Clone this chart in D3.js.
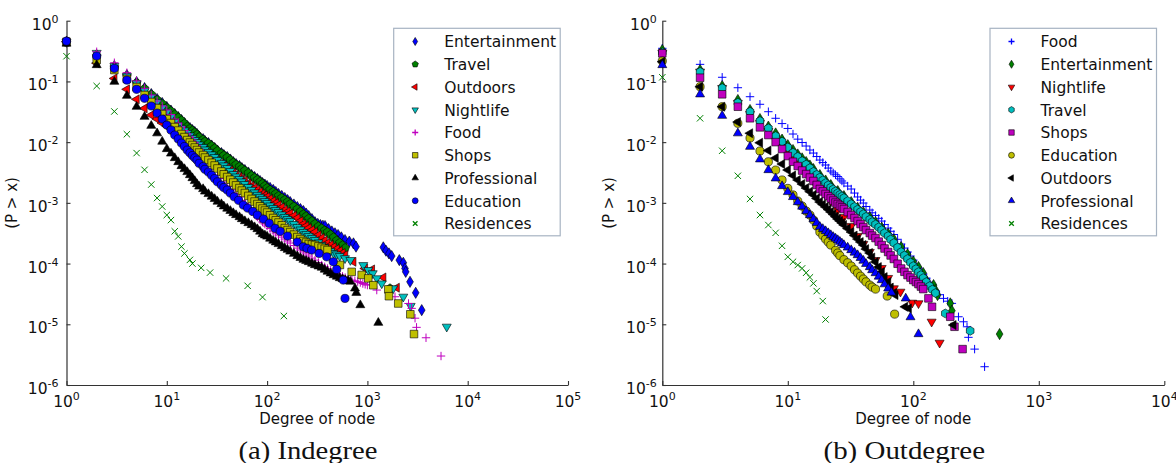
<!DOCTYPE html>
<html>
<head>
<meta charset="utf-8">
<script src="https://cdn.jsdelivr.net/npm/d3@7"></script>
<style>
  body { margin: 0; background: #fff; }
  svg { display: block; font-family: "DejaVu Sans", sans-serif; }
</style>
</head>
<body>
<svg id="chart" width="1176" height="463"></svg>
<script>
// ---- (a) Indegree : [degree, P(>x)] pairs
var inEntertainment = [[1,0.451],[2,0.272],[3,0.179],[4,0.127],[5,0.0977],[6,0.0778],[7,0.062],[8,0.0513],[9,0.0441],[10,0.0379],[11,0.0331],[12,0.029],[13,0.0259],[14,0.0231],[15,0.0206],[16,0.0184],[17,0.0171],[18,0.0158],[19,0.0147],[20,0.0136],[21,0.0123],[23,0.0112],[24,0.0104],[26,0.00966],[28,0.00879],[30,0.008],[32,0.00727],[35,0.00661],[37,0.00613],[40,0.00568],[43,0.00517],[46,0.0047],[49,0.00436],[53,0.00404],[56,0.00374],[60,0.00347],[65,0.00316],[70,0.00287],[75,0.00266],[80,0.00247],[85,0.00229],[90,0.00212],[95,0.002],[100,0.00189],[107,0.00176],[115,0.00163],[122,0.00151],[130,0.0014],[140,0.0013],[150,0.0012],[160,0.00111],[170,0.00103],[185,0.00094],[200,0.000853],[215,0.00079],[230,0.000733],[245,0.000667],[260,0.000606],[280,0.00054],[300,0.00048],[320,0.00045],[340,0.00043],[360,0.00042],[378,0.000415],[410,0.00037],[442,0.000338],[475,0.000315],[510,0.000295],[550,0.00027],[598,0.000244],[660,0.00023],[726,0.000215],[770,0.00019],[1440,0.000185],[1530,0.000163],[1640,0.000147],[1746,0.000133],[2080,0.000114],[2280,0.000103],[2370,0.000083],[2410,0.000073],[2660,0.00005],[3030,0.000033],[3480,0.0000171]];
var inTravel = [[1,0.44],[2,0.26],[3,0.172],[4,0.123],[5,0.095],[6,0.076],[7,0.061],[8,0.05],[9,0.043],[10,0.037],[11,0.0325],[12,0.0285],[13,0.0254],[14,0.0227],[15,0.0202],[16,0.018],[17,0.0167],[18,0.0155],[19,0.0144],[20,0.0133],[21,0.0121],[23,0.011],[24,0.0102],[26,0.0095],[28,0.00866],[30,0.0079],[32,0.00717],[35,0.0065],[37,0.00603],[40,0.0056],[43,0.00508],[46,0.0046],[49,0.00426],[53,0.00395],[56,0.00366],[60,0.0034],[65,0.00309],[70,0.0028],[75,0.00259],[80,0.0024],[85,0.00223],[90,0.00207],[95,0.00191],[100,0.00176],[107,0.00164],[115,0.00152],[122,0.00141],[130,0.0013],[140,0.00121],[150,0.00112],[160,0.00104],[170,0.00096],[185,0.00087],[200,0.00079],[215,0.00072],[230,0.00065],[245,0.0006],[260,0.00055],[280,0.0005],[300,0.00045],[325,0.00041],[350,0.00038],[375,0.00035],[400,0.00033],[430,0.0003],[460,0.00027],[495,0.00024],[530,0.00022],[565,0.0002],[600,0.00018],[1680,0.000039]];
var inOutdoors = [[1,0.45],[2,0.2],[3,0.112],[4,0.0741],[5,0.0507],[6,0.036],[7,0.0279],[8,0.024],[9,0.0206],[10,0.0184],[11,0.0167],[12,0.0152],[13,0.0138],[14,0.0126],[15,0.0117],[16,0.0108],[17,0.01],[18,0.00931],[19,0.00879],[20,0.0083],[21,0.0077],[23,0.00714],[24,0.00662],[26,0.00613],[28,0.00568],[30,0.00527],[32,0.00479],[35,0.00436],[37,0.00404],[40,0.00374],[43,0.0034],[46,0.0031],[49,0.00287],[53,0.00266],[56,0.00247],[60,0.00229],[65,0.00208],[70,0.00189],[75,0.00175],[80,0.00163],[85,0.00151],[90,0.0014],[95,0.00132],[100,0.00125],[107,0.00116],[115,0.00107],[122,0.00099],[130,0.00092],[140,0.00084],[150,0.000761],[160,0.000712],[170,0.000667],[185,0.000612],[200,0.000562],[215,0.000502],[230,0.000448],[245,0.000415],[260,0.000384],[280,0.000356],[300,0.00033],[325,0.000295],[350,0.000263],[375,0.000239],[400,0.000218],[430,0.000202],[460,0.000187],[495,0.000174],[530,0.000161],[565,0.000149],[600,0.000138],[724,0.000107],[946,0.000083],[1110,0.00008],[1440,0.000059],[1960,0.00004]];
var inNightlife = [[1,0.45],[2,0.294],[3,0.179],[4,0.123],[5,0.0931],[6,0.0695],[7,0.0553],[8,0.0458],[9,0.037],[10,0.031],[11,0.0258],[12,0.0214],[13,0.0191],[14,0.0171],[15,0.0155],[16,0.0141],[17,0.0128],[18,0.0117],[19,0.0108],[20,0.01],[21,0.0091],[23,0.0083],[24,0.00755],[26,0.00687],[28,0.00625],[30,0.00568],[32,0.00507],[35,0.00453],[37,0.00412],[40,0.00374],[43,0.00334],[46,0.00298],[49,0.00271],[53,0.00247],[56,0.00224],[60,0.00204],[65,0.00182],[70,0.00163],[75,0.00148],[80,0.00135],[85,0.00125],[90,0.00116],[95,0.00107],[100,0.000993],[107,0.000903],[115,0.000821],[122,0.000761],[130,0.000706],[140,0.000642],[150,0.000584],[160,0.000541],[170,0.000501],[185,0.000447],[200,0.000399],[215,0.000363],[230,0.00033],[245,0.000306],[260,0.000284],[280,0.000263],[300,0.000244],[325,0.000222],[350,0.000202],[375,0.000187],[400,0.000173],[430,0.000161],[460,0.000149],[495,0.000141],[530,0.000133],[598,0.000122],[676,0.000114],[910,0.000094],[1020,0.000078],[1130,0.000069],[1240,0.000057],[1390,0.000047],[1810,0.000039],[2280,0.0000284],[2700,0.00002],[6180,0.0000091]];
var inFood = [[1,0.46],[2,0.308],[3,0.203],[4,0.139],[5,0.102],[6,0.0769],[7,0.0597],[8,0.0475],[9,0.0394],[10,0.0338],[11,0.0285],[12,0.024],[13,0.0206],[14,0.0177],[15,0.0155],[16,0.0136],[17,0.0121],[18,0.0108],[19,0.00974],[20,0.00879],[21,0.00762],[23,0.00661],[24,0.0059],[26,0.00527],[28,0.00453],[30,0.00389],[32,0.00334],[35,0.00287],[37,0.00251],[40,0.0022],[43,0.00189],[46,0.00163],[49,0.00143],[53,0.00125],[56,0.0011],[60,0.000973],[65,0.000836],[70,0.000719],[75,0.000648],[80,0.000584],[85,0.000531],[90,0.000483],[95,0.000448],[100,0.000415],[107,0.000377],[115,0.000343],[122,0.000318],[130,0.000295],[140,0.000273],[150,0.000253],[160,0.000235],[170,0.000218],[185,0.000198],[200,0.00018],[215,0.000167],[230,0.000155],[245,0.000144],[260,0.000133],[280,0.000123],[300,0.000114],[325,0.000104],[350,0.0000945],[375,0.0000885],[400,0.0000828],[430,0.0000774],[460,0.0000724],[495,0.0000684],[530,0.0000646],[565,0.0000616],[600,0.0000587],[650,0.000056],[700,0.0000535],[750,0.000052],[800,0.0000505],[850,0.0000487],[900,0.0000469],[950,0.0000455],[1000,0.0000442],[1240,0.0000366],[1885,0.0000284],[2570,0.000022],[2760,0.0000183],[2985,0.0000126],[3090,0.0000089],[3840,0.000006],[5420,0.000003]];
var inShops = [[1,0.45],[2,0.225],[3,0.154],[4,0.11],[5,0.0809],[6,0.0597],[7,0.0458],[8,0.0364],[9,0.029],[10,0.024],[11,0.0206],[12,0.0177],[13,0.0155],[14,0.0136],[15,0.0121],[16,0.0108],[17,0.00984],[18,0.00896],[19,0.00815],[20,0.00741],[21,0.00674],[23,0.00613],[24,0.00557],[26,0.00507],[28,0.00457],[30,0.00412],[32,0.00368],[35,0.00328],[37,0.00295],[40,0.00266],[43,0.0024],[46,0.00216],[49,0.00194],[53,0.00175],[56,0.00159],[60,0.00145],[65,0.0013],[70,0.00116],[75,0.00105],[80,0.000955],[85,0.000877],[90,0.000805],[95,0.000746],[100,0.000692],[107,0.000624],[115,0.000562],[122,0.000516],[130,0.000474],[140,0.000427],[150,0.000384],[160,0.000356],[170,0.00033],[185,0.0003],[200,0.000273],[215,0.000253],[230,0.000235],[245,0.000222],[260,0.00021],[280,0.000206],[300,0.000202],[325,0.000192],[350,0.000183],[375,0.000175],[400,0.000167],[532,0.000095],[697,0.000073],[877,0.000065],[1020,0.000057],[1145,0.000044],[1615,0.0000376],[1640,0.000029],[2030,0.000022],[2680,0.0000146],[2915,0.0000069]];
var inProfessional = [[1,0.42],[2,0.186],[3,0.0989],[4,0.0581],[5,0.0383],[6,0.0262],[7,0.0186],[8,0.014],[9,0.0102],[10,0.0077],[11,0.0065],[12,0.00547],[13,0.0047],[14,0.00404],[15,0.00361],[16,0.00322],[17,0.00287],[18,0.00256],[19,0.00229],[20,0.00204],[21,0.00186],[23,0.00169],[24,0.00154],[26,0.0014],[28,0.00127],[30,0.00116],[32,0.00105],[35,0.000955],[37,0.000877],[40,0.000805],[43,0.000739],[46,0.000679],[49,0.00063],[53,0.000584],[56,0.000541],[60,0.000501],[65,0.000465],[70,0.000431],[75,0.000399],[80,0.00037],[85,0.000337],[90,0.000306],[95,0.000292],[100,0.000279],[107,0.000258],[115,0.000239],[122,0.000224],[130,0.00021],[140,0.000194],[150,0.00018],[160,0.000169],[170,0.000158],[185,0.000145],[200,0.000133],[215,0.000124],[230,0.000116],[245,0.000111],[260,0.000106],[280,0.0001],[300,0.0000945],[325,0.00009],[350,0.0000859],[375,0.0000796],[400,0.0000738],[430,0.000069],[460,0.0000646],[495,0.0000611],[530,0.0000577],[565,0.0000556],[600,0.0000535],[640,0.000052],[676,0.0000505],[752,0.000039],[775,0.000033],[850,0.0000207],[1285,0.0000106]];
var inEducation = [[1,0.46],[2,0.262],[3,0.164],[4,0.105],[5,0.0741],[6,0.0527],[7,0.0394],[8,0.0301],[9,0.024],[10,0.0191],[11,0.0158],[12,0.0131],[13,0.0113],[14,0.00966],[15,0.00846],[16,0.00741],[17,0.00667],[18,0.00601],[19,0.00552],[20,0.00507],[21,0.00448],[23,0.00396],[24,0.00357],[26,0.00322],[28,0.00284],[30,0.00251],[32,0.00222],[35,0.00196],[37,0.00179],[40,0.00163],[43,0.00145],[47,0.00126],[52,0.0011],[58,0.00092],[64,0.00082],[72,0.00072],[80,0.00063],[92,0.00054],[105,0.00046],[120,0.00038],[135,0.00034],[160,0.000284],[200,0.000226],[229,0.000189],[250,0.000178],[278,0.000167],[330,0.000147],[393,0.000129],[457,0.000107],[494,0.00008],[575,0.0000535],[598,0.0000267]];
var inResidences = [[1,0.26],[2,0.084],[3,0.032],[4,0.0135],[5,0.0066],[6,0.0035],[7,0.002],[8,0.0012],[9,0.00087],[10,0.00063],[11,0.00052],[12,0.00034],[13,0.00028],[14,0.00019],[15,0.000147],[17,0.000115],[18,0.0001],[22,0.000085],[27,0.000071],[39,0.000057],[64,0.000043],[90,0.000028],[147,0.0000137]];

// ---- (b) Outdegree
var outFood = [[1,0.351],[2,0.191],[3,0.117],[4,0.0787],[5,0.056],[6,0.042],[7,0.0317],[8,0.0247],[9,0.0202],[10,0.0168],[11,0.0136],[12,0.0112],[13,0.00985],[14,0.00863],[15,0.00741],[16,0.00661],[17,0.00579],[18,0.00507],[19,0.00461],[20,0.0042],[21,0.00374],[22,0.00334],[23,0.00311],[24,0.0029],[25,0.00271],[26,0.00248],[27,0.00229],[28,0.00212],[30,0.00189],[32,0.00169],[34,0.00145],[36,0.00125],[38,0.00111],[40,0.000993],[42,0.00087],[45,0.000761],[47,0.000686],[50,0.000618],[53,0.000556],[56,0.000501],[59,0.000439],[63,0.000384],[66,0.00034],[70,0.000301],[75,0.000251],[80,0.00021],[85,0.00018],[90,0.000155],[95,0.000133],[100,0.000114],[105,0.000098],[110,0.0000843],[115,0.0000752],[120,0.0000671],[127,0.0000576],[135,0.0000495],[142,0.0000417],[150,0.0000352],[162,0.0000307],[174,0.0000267],[188,0.000024],[203,0.0000221],[229,0.0000133],[251,0.000011],[268,0.0000091],[275,0.0000061],[308,0.0000039],[370,0.000002]];
var outEntertainment = [[1,0.329],[2,0.154],[3,0.084],[4,0.0494],[5,0.0338],[6,0.024],[7,0.018],[8,0.0139],[9,0.011],[10,0.0089],[11,0.00741],[12,0.00626],[13,0.0054],[14,0.0047],[15,0.00412],[16,0.0036],[18,0.00287],[20,0.00233],[22,0.00196],[25,0.00156],[28,0.00129],[32,0.00103],[36,0.00083],[40,0.0007],[45,0.00058],[50,0.00048],[56,0.00039],[63,0.00031],[70,0.00025],[80,0.000187],[90,0.000142],[100,0.000108],[110,0.0000876],[120,0.0000697],[128,0.0000515],[145,0.0000442],[150,0.0000366],[156,0.0000303],[197,0.0000221],[203,0.0000167],[487,0.0000069]];
var outNightlife = [[1,0.294],[2,0.145],[3,0.0778],[4,0.0441],[5,0.029],[6,0.0206],[7,0.0152],[8,0.0117],[9,0.00931],[10,0.00741],[11,0.0059],[12,0.00488],[13,0.00404],[14,0.0034],[15,0.00287],[16,0.00229],[18,0.00175],[20,0.00135],[22,0.00107],[25,0.000761],[28,0.000584],[32,0.000415],[36,0.000284],[40,0.00021],[45,0.000155],[50,0.000114],[56,0.0000843],[63,0.0000577],[70,0.000039],[79,0.0000343],[98,0.0000226],[110,0.0000221],[140,0.000011],[162,0.00000496]];
var outTravel = [[1,0.3],[2,0.144],[3,0.0778],[4,0.0446],[5,0.0317],[6,0.0223],[7,0.0169],[8,0.0126],[9,0.0102],[10,0.0082],[11,0.00669],[12,0.00574],[13,0.00488],[14,0.00428],[15,0.00374],[16,0.00325],[17,0.00291],[18,0.00261],[19,0.00235],[20,0.00212],[21,0.00195],[22,0.00179],[23,0.00167],[24,0.00155],[25,0.00145],[26,0.00136],[27,0.00128],[28,0.0012],[30,0.00107],[32,0.000955],[34,0.00086],[36,0.000776],[38,0.000712],[40,0.000654],[42,0.000589],[45,0.000531],[47,0.000483],[50,0.00044],[53,0.000396],[56,0.000356],[59,0.000318],[63,0.000284],[66,0.000249],[70,0.000218],[75,0.000184],[80,0.000155],[85,0.000136],[90,0.000119],[95,0.000104],[100,0.000091],[105,0.0000812],[110,0.0000724],[115,0.0000646],[120,0.0000577],[127,0.0000496],[135,0.0000426],[142,0.0000373],[150,0.0000327],[180,0.0000151],[284,0.0000078]];
var outShops = [[1,0.29],[2,0.115],[3,0.0613],[4,0.0383],[5,0.0247],[6,0.0175],[7,0.0131],[8,0.01],[9,0.0077],[10,0.0059],[11,0.00475],[12,0.00404],[13,0.0034],[14,0.00298],[15,0.00261],[16,0.00229],[17,0.00197],[18,0.00169],[19,0.00154],[20,0.0014],[21,0.00129],[22,0.00118],[23,0.00109],[24,0.00101],[25,0.000955],[26,0.000896],[27,0.000842],[28,0.000791],[30,0.000706],[32,0.00063],[34,0.000562],[36,0.000501],[38,0.000447],[40,0.000399],[42,0.000356],[45,0.000318],[47,0.000289],[50,0.000263],[53,0.00023],[56,0.000202],[59,0.000177],[63,0.000155],[66,0.000136],[70,0.000119],[75,0.0000993],[80,0.0000828],[85,0.0000731],[90,0.0000646],[95,0.0000588],[100,0.0000535],[105,0.0000496],[110,0.0000459],[115,0.0000418],[120,0.000038],[132,0.0000267],[141,0.0000194],[197,0.0000133],[213,0.0000091],[247,0.0000039]];
var outEducation = [[1,0.217],[2,0.0818],[3,0.0383],[4,0.0204],[5,0.0117],[6,0.00714],[7,0.00475],[8,0.00347],[9,0.00238],[10,0.00173],[11,0.00135],[12,0.00107],[13,0.000885],[14,0.000733],[15,0.00063],[16,0.000521],[17,0.000415],[18,0.00033],[19,0.00029],[20,0.000253],[21,0.000226],[22,0.000202],[24,0.000165],[25,0.000149],[26,0.000135],[28,0.000116],[30,0.000103],[32,0.000091],[34,0.000079],[36,0.0000697],[38,0.000062],[40,0.0000556],[42,0.00005],[45,0.0000442],[47,0.000041],[50,0.000038],[62,0.0000292],[71,0.0000147]];
var outOutdoors = [[1,0.211],[2,0.0818],[3,0.0383],[4,0.0214],[5,0.014],[6,0.00977],[7,0.00728],[8,0.00547],[9,0.00436],[10,0.00347],[11,0.00282],[12,0.00238],[13,0.00204],[14,0.00175],[15,0.00153],[16,0.00135],[17,0.00118],[18,0.00103],[19,0.000937],[20,0.000853],[21,0.000776],[22,0.000706],[23,0.000646],[24,0.000592],[25,0.000541],[26,0.000503],[27,0.000466],[28,0.000431],[30,0.000377],[32,0.00033],[34,0.000289],[36,0.000253],[38,0.000226],[40,0.000202],[42,0.000173],[45,0.000149],[47,0.000126],[50,0.000106],[53,0.0000876],[56,0.0000724],[59,0.0000599],[63,0.0000495],[66,0.0000402],[70,0.0000327],[72,0.0000303],[86,0.0000194],[92,0.0000183],[209,0.0000097]];
var outProfessional = [[1,0.186],[2,0.0613],[3,0.0272],[4,0.014],[5,0.0084],[6,0.00521],[7,0.00347],[8,0.00253],[9,0.00189],[10,0.00151],[11,0.00125],[12,0.00103],[13,0.000869],[14,0.000733],[15,0.00063],[16,0.000541],[17,0.000468],[18,0.000404],[19,0.000372],[20,0.000343],[21,0.000318],[22,0.000295],[23,0.000275],[24,0.000259],[25,0.000244],[26,0.000229],[27,0.000215],[28,0.000202],[30,0.000184],[32,0.000167],[34,0.000152],[36,0.000138],[38,0.000124],[40,0.000112],[42,0.000099],[45,0.0000876],[47,0.0000781],[50,0.0000697],[53,0.0000611],[56,0.0000535],[59,0.0000457],[63,0.000039],[67,0.0000333],[87,0.0000267],[95,0.0000131],[110,0.0000069]];
var outResidences = [[1,0.117],[2,0.0247],[3,0.00721],[4,0.00279],[5,0.00116],[6,0.00063],[7,0.000431],[8,0.000321],[9,0.000196],[10,0.000129],[11,0.000107],[12,0.0000945],[13,0.0000833],[14,0.0000705],[15,0.0000593],[16,0.0000472],[17,0.0000352],[19,0.0000241],[20,0.000012]];

var yTicks = [1e-6, 1e-5, 1e-4, 1e-3, 1e-2, 1e-1, 1];
var xTicksIn = [1, 10, 100, 1000, 10000, 100000];
var xTicksOut = [1, 10, 100, 1000, 10000];

var BLUE = "#0000ff", GREEN = "#008000", RED = "#ff0000", CYAN = "#00bfbf",
    MAGENTA = "#bf00bf", YELLOW = "#bfbf00", BLACK = "#000000";

// marker outlines, s = rough half size
function markerPath(type, s) {
  function poly(n, r, rot) {
    var pts = [];
    for (var i = 0; i < n; i++) {
      var a = rot + i * 2 * Math.PI / n;
      pts.push([r * Math.cos(a), r * Math.sin(a)]);
    }
    return "M" + pts.map(function (p) { return p[0].toFixed(2) + "," + p[1].toFixed(2); }).join("L") + "Z";
  }
  switch (type) {
    case "diamond": return "M0," + (-s) + "L" + (s * 0.6) + ",0L0," + s + "L" + (-s * 0.6) + ",0Z";
    case "pentagon": return poly(5, s, -Math.PI / 2);
    case "hexagon": return poly(6, s, -Math.PI / 2);
    case "triUp": return poly(3, s, -Math.PI / 2);
    case "triDown": return poly(3, s, Math.PI / 2);
    case "triLeft": return poly(3, s, Math.PI);
    case "square": return "M" + (-s) + "," + (-s) + "H" + s + "V" + s + "H" + (-s) + "Z";
    case "circle": return "M" + s + ",0A" + s + "," + s + " 0 1,1 " + (-s) + ",0A" + s + "," + s + " 0 1,1 " + s + ",0Z";
    case "plus": return "M" + (-s) + ",0H" + s + "M0," + (-s) + "V" + s;
    case "cross": return "M" + (-s) + "," + (-s) + "L" + s + "," + s + "M" + (-s) + "," + s + "L" + s + "," + (-s);
  }
}
var lineMarkers = { plus: true, cross: true };
var markerSize = { diamond: 5.6, pentagon: 4.6, hexagon: 4.4, triUp: 5.2, triDown: 5.2, triLeft: 5.2, square: 3.8, circle: 4.1, plus: 4.2, cross: 3.2 };

var inSeries = [
  { name: "Entertainment", data: inEntertainment, shape: "diamond", color: BLUE },
  { name: "Travel", data: inTravel, shape: "pentagon", color: GREEN },
  { name: "Outdoors", data: inOutdoors, shape: "triLeft", color: RED },
  { name: "Nightlife", data: inNightlife, shape: "triDown", color: CYAN },
  { name: "Food", data: inFood, shape: "plus", color: MAGENTA },
  { name: "Shops", data: inShops, shape: "square", color: YELLOW },
  { name: "Professional", data: inProfessional, shape: "triUp", color: BLACK },
  { name: "Education", data: inEducation, shape: "circle", color: BLUE },
  { name: "Residences", data: inResidences, shape: "cross", color: GREEN }
];
var outSeries = [
  { name: "Food", data: outFood, shape: "plus", color: BLUE },
  { name: "Entertainment", data: outEntertainment, shape: "diamond", color: GREEN },
  { name: "Nightlife", data: outNightlife, shape: "triDown", color: RED },
  { name: "Travel", data: outTravel, shape: "hexagon", color: CYAN },
  { name: "Shops", data: outShops, shape: "square", color: MAGENTA },
  { name: "Education", data: outEducation, shape: "circle", color: YELLOW },
  { name: "Outdoors", data: outOutdoors, shape: "triLeft", color: BLACK },
  { name: "Professional", data: outProfessional, shape: "triUp", color: BLUE },
  { name: "Residences", data: outResidences, shape: "cross", color: GREEN }
];

var svg = d3.select("#chart");

function styleMarker(sel, s, size, lw) {
  if (lineMarkers[s.shape]) {
    sel.attr("d", markerPath(s.shape, size)).attr("fill", "none")
       .attr("stroke", s.color).attr("stroke-width", lw || 1);
  } else {
    sel.attr("d", markerPath(s.shape, size)).attr("fill", s.color)
       .attr("stroke", "#000").attr("stroke-width", 0.6);
  }
}

function powLabel(sel, v) {
  var e = Math.round(Math.log10(v));
  sel.text("10").append("tspan").attr("dy", -7).attr("font-size", 11).text(e);
}

function drawPanel(cfg) {
  var x = d3.scaleLog().domain(cfg.xDomain).range([cfg.left, cfg.right]);
  var y = d3.scaleLog().domain([1e-6, 1]).range([385, 20.7]);
  var g = svg.append("g");

  var gx = g.append("g").attr("transform", "translate(0,385)")
    .call(d3.axisBottom(x).tickValues(cfg.xTicks).tickSizeInner(-4).tickSizeOuter(0).tickFormat(""));
  var gy = g.append("g").attr("transform", "translate(" + cfg.left + ",0)")
    .call(d3.axisLeft(y).tickValues(yTicks).tickSizeInner(-4).tickSizeOuter(0).tickFormat(""));
  [gx, gy].forEach(function (a) {
    a.select(".domain").attr("stroke", "#333").attr("stroke-width", 1.2);
    a.selectAll(".tick line").attr("stroke", "#333").attr("stroke-width", 1.1);
  });

  g.selectAll(".xlab").data(cfg.xTicks).join("text")
    .attr("x", function (d) { return x(d); }).attr("y", 406.5)
    .attr("text-anchor", "middle").attr("font-size", 15.5).attr("fill", "#111")
    .each(function (d) { powLabel(d3.select(this), d); });
  g.selectAll(".ylab").data(yTicks).join("text")
    .attr("x", cfg.left - cfg.yPad).attr("y", function (d) { return y(d) + 9; })
    .attr("text-anchor", "end").attr("font-size", 15.5).attr("fill", "#111")
    .each(function (d) { powLabel(d3.select(this), d); });

  g.append("text").attr("x", (cfg.left + cfg.right) / 2).attr("y", 424)
    .attr("text-anchor", "middle").attr("font-size", 15).attr("fill", "#111").text("Degree of node");
  g.append("text").attr("transform", "translate(" + cfg.ylabX + ",203) rotate(-90)")
    .attr("text-anchor", "middle").attr("font-size", 15).attr("fill", "#111").text("(P > x)");
  g.append("text").attr("x", cfg.capX).attr("y", 459)
    .attr("font-family", "'Liberation Serif', serif").attr("font-size", 25).attr("fill", "#111")
    .attr("textLength", cfg.capW).attr("lengthAdjust", "spacingAndGlyphs").text(cfg.caption);

  cfg.series.forEach(function (s) {
    g.append("g").selectAll("path").data(s.data).join("path")
      .attr("transform", function (d) { return "translate(" + x(d[0]) + "," + y(d[1]) + ")"; })
      .call(styleMarker, s, markerSize[s.shape]);
  });

  // legend
  var lg = g.append("g");
  lg.append("rect").attr("x", cfg.legX).attr("y", 28.3).attr("width", 166.5).attr("height", 207.5)
    .attr("fill", "#fff").attr("stroke", "#a7b3c2").attr("stroke-width", 1.2);
  cfg.series.forEach(function (s, i) {
    var cy = 41.5 + i * 22.75;
    lg.append("path").attr("transform", "translate(" + (cfg.legX + 21.5) + "," + cy + ")")
      .call(styleMarker, s, markerSize[s.shape] * 0.72, 1.3);
    lg.append("text").attr("x", cfg.legX + 50.5).attr("y", cy + 5.8)
      .attr("font-size", 15.5).attr("fill", "#111").text(s.name);
  });
}

drawPanel({
  xDomain: [1, 1e5], left: 66.5, right: 568, xTicks: xTicksIn, yPad: 8,
  ylabX: 17, series: inSeries, legX: 393.7,
  caption: "(a) Indegree", capX: 238.5, capW: 139
});
drawPanel({
  xDomain: [1, 1e4], left: 662.3, right: 1164.3, xTicks: xTicksOut, yPad: 5.5,
  ylabX: 614, series: outSeries, legX: 990,
  caption: "(b) Outdegree", capX: 823.5, capW: 161.5
});
</script>
</body>
</html>
